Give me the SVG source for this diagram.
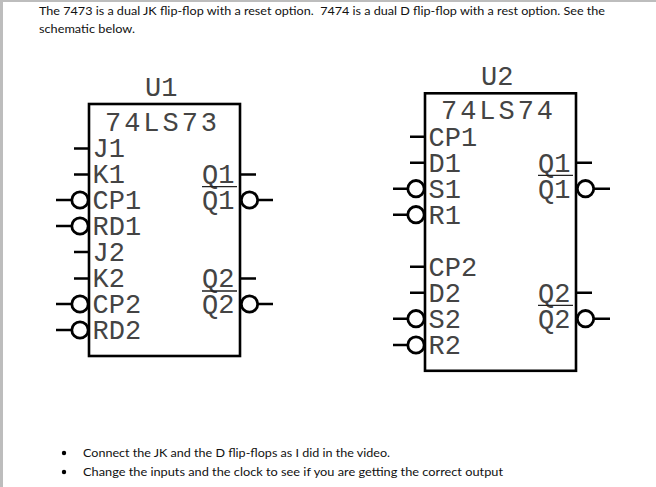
<svg xmlns="http://www.w3.org/2000/svg" width="656" height="487" viewBox="0 0 656 487">
<style>
.body{font-family:"Lato","Carlito","Open Sans",sans-serif;font-size:12.2px;fill:#111}
.m{font-family:"Liberation Mono","Courier New",monospace;font-size:27px;fill:#444}
.box{fill:#fff;stroke:#000;stroke-width:2.6}
.w{fill:none;stroke:#000;stroke-width:2.6}
.b{fill:#fff;stroke:#000;stroke-width:2.8}
</style>
<rect x="0" y="0" width="656" height="487" fill="#fff"/>
<rect x="0" y="0" width="656" height="2" fill="#bdbdbd"/>
<rect x="0" y="0" width="3" height="487" fill="#bdbdbd"/>
<g id="intro">
<text class="body" x="39" y="15" textLength="566" lengthAdjust="spacingAndGlyphs" xml:space="preserve">The 7473 is a dual JK flip-flop with a reset option.  7474 is a dual D flip-flop with a rest option. See the</text>
<text class="body" x="39" y="33" textLength="96" lengthAdjust="spacingAndGlyphs">schematic below.</text>
</g>
<g id="connectors">
<path class="w" d="M74 148.500H89M74 174.500H89M56 200H72M56 226H72M74 252H89M74 278.500H89M56 304H72M56 330H72M240 174.500H256M258 200H273M240 278.500H256M258 304H273"/>
<path class="w" d="M410 136.700H425M410 162.700H425M393 188.700H408M393 214.700H408M410 266.700H425M410 292.700H425M393 318.700H408M393 345H408M576 162.700H592M594 188.700H610M576 292.700H592M594 318.700H610"/>
</g>
<g id="U1">
<rect class="box" x="89" y="104" width="151" height="252"/>
<circle class="b" cx="80" cy="200" r="8.200"/>
<circle class="b" cx="80" cy="226" r="8.200"/>
<circle class="b" cx="80" cy="304" r="8.200"/>
<circle class="b" cx="80" cy="330" r="8.200"/>
<circle class="b" cx="249.500" cy="200" r="8.200"/>
<circle class="b" cx="249.500" cy="304" r="8.200"/>
<text class="m" x="145" y="96">U1</text>
<text class="m" x="105" y="130.700" textLength="112">74LS73</text>
<text class="m" x="92.500" y="157">J1</text>
<text class="m" x="92.500" y="183">K1</text>
<text class="m" x="92.500" y="209">CP1</text>
<text class="m" x="92.500" y="235">RD1</text>
<text class="m" x="92.500" y="261">J2</text>
<text class="m" x="92.500" y="287">K2</text>
<text class="m" x="92.500" y="313">CP2</text>
<text class="m" x="92.500" y="339">RD2</text>
<text class="m" x="202" y="183">Q1</text>
<text class="m" x="202" y="209">Q1</text>
<text class="m" x="202" y="287">Q2</text>
<text class="m" x="202" y="313">Q2</text>
<path d="M202 186.700H237M202 291H237" stroke="#222" stroke-width="1.300" fill="none"/>
</g>
<g id="U2">
<rect class="box" x="425" y="93.300" width="151" height="277.500"/>
<circle class="b" cx="416" cy="188.700" r="8.200"/>
<circle class="b" cx="416" cy="214.700" r="8.200"/>
<circle class="b" cx="416" cy="318.700" r="8.200"/>
<circle class="b" cx="416" cy="345" r="8.200"/>
<circle class="b" cx="585.500" cy="188.700" r="8.200"/>
<circle class="b" cx="585.500" cy="318.700" r="8.200"/>
<text class="m" x="481" y="84.500">U2</text>
<text class="m" x="441" y="119" textLength="112">74LS74</text>
<text class="m" x="428.500" y="145.500">CP1</text>
<text class="m" x="428.500" y="171.500">D1</text>
<text class="m" x="428.500" y="197.500">S1</text>
<text class="m" x="428.500" y="223.500">R1</text>
<text class="m" x="428.500" y="275.500">CP2</text>
<text class="m" x="428.500" y="301.500">D2</text>
<text class="m" x="428.500" y="327.500">S2</text>
<text class="m" x="428.500" y="353.500">R2</text>
<text class="m" x="538" y="171.500">Q1</text>
<text class="m" x="538" y="197.500">Q1</text>
<text class="m" x="538" y="301.500">Q2</text>
<text class="m" x="538" y="327.500">Q2</text>
<path d="M538 175.300H573M538 305.300H573" stroke="#222" stroke-width="1.300" fill="none"/>
</g>
<g id="notes">
<circle cx="64" cy="453" r="2.200" fill="#000"/>
<circle cx="64" cy="472" r="2.200" fill="#000"/>
<text class="body" x="83" y="457" textLength="307" lengthAdjust="spacingAndGlyphs">Connect the JK and the D flip-flops as I did in the video.</text>
<text class="body" x="83" y="476" textLength="420" lengthAdjust="spacingAndGlyphs">Change the inputs and the clock to see if you are getting the correct output</text>
</g>
</svg>
